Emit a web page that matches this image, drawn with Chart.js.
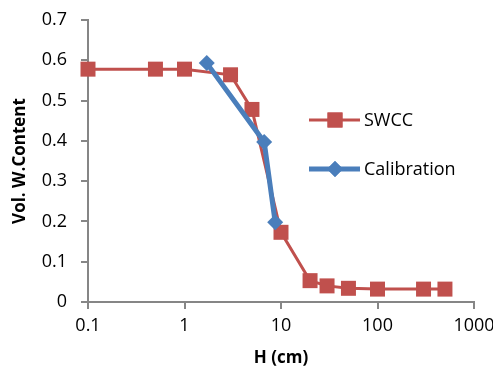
<!DOCTYPE html>
<html>
<head>
<meta charset="utf-8">
<script src="https://cdn.jsdelivr.net/npm/chart.js@4"></script>
<style>
  html, body { margin: 0; padding: 0; background: #fff; }
  #c { display: block; }
</style>
</head>
<body>
<canvas id="c" width="493" height="369"></canvas>
<script>
// dados
const swccH = [0.1, 0.5, 1, 3, 5, 10, 20, 30, 50, 100, 300, 500];
const swccTheta = [0.578, 0.578, 0.578, 0.564, 0.478, 0.173, 0.053, 0.04, 0.034, 0.032, 0.032, 0.032];
const calibH = [1.7, 6.7, 8.7];
const calibTheta = [0.593, 0.397, 0.198];
const xTicks = [0.1, 1, 10, 100, 1000];
const xTickLabels = ['0.1', '1', '10', '100', '1000'];
const yTickLabels = ['0', '0.1', '0.2', '0.3', '0.4', '0.5', '0.6', '0.7'];

const RED = '#C0504D';
const BLUE = '#4A7EBB';
const AXIS = '#868686';
const FONT = "'Open Sans', sans-serif";

function pares(xs, ys) {
    return xs.map((x, i) => ({ x: x, y: ys[i] }));
}

// legenda desenhada à mão dentro da área do gráfico
const legendaPlugin = {
    id: 'legenda',
    afterDraw(chart) {
        const ctx = chart.ctx;
        const itens = [
            { label: 'SWCC', color: RED, width: 3, y: 120, style: 'rect', r: 10.6 },
            { label: 'Calibration', color: BLUE, width: 5, y: 169, style: 'rectRot', r: 8 }
        ];
        ctx.save();
        itens.forEach(it => {
            ctx.strokeStyle = it.color;
            ctx.lineWidth = it.width;
            ctx.beginPath();
            ctx.moveTo(309, it.y);
            ctx.lineTo(360, it.y);
            ctx.stroke();
            ctx.fillStyle = it.color;
            Chart.helpers.drawPoint(ctx, { pointStyle: it.style, radius: it.r, borderWidth: 0 }, 335, it.y);
            ctx.fill();
            ctx.fillStyle = '#000';
            ctx.font = '18px ' + FONT;
            ctx.textBaseline = 'middle';
            ctx.fillText(it.label, 364, it.y + 1);
        });
        ctx.restore();
    }
};

new Chart(document.getElementById('c'), {
    type: 'line',
    data: {
        datasets: [{
            label: 'SWCC',
            data: pares(swccH, swccTheta),
            borderColor: RED,
            backgroundColor: RED,
            borderWidth: 3,
            pointStyle: 'rect',
            pointRadius: 10.6,
            pointHoverRadius: 10.6,
            pointBorderWidth: 0,
            tension: 0,
            clip: false,
            order: 2
        }, {
            label: 'Calibration',
            data: pares(calibH, calibTheta),
            borderColor: BLUE,
            backgroundColor: BLUE,
            borderWidth: 5,
            pointStyle: 'rectRot',
            pointRadius: 8,
            pointHoverRadius: 8,
            pointBorderWidth: 0,
            tension: 0,
            clip: false,
            order: 1
        }]
    },
    options: {
        responsive: false,
        animation: false,
        layout: { padding: { left: 0, right: 19, top: 20, bottom: 0 } },
        plugins: {
            legend: { display: false },
            tooltip: { enabled: false }
        },
        scales: {
            x: {
                type: 'logarithmic',
                min: 0.1,
                max: 1000,
                afterBuildTicks: s => { s.ticks = xTicks.map(v => ({ value: v })); },
                afterFit: s => { s.height = 67; s.paddingRight = 0; s.paddingLeft = 0; },
                ticks: {
                    autoSkip: false,
                    maxRotation: 0,
                    color: '#000',
                    padding: 6,
                    font: { family: FONT, size: 18 },
                    callback: (v) => xTickLabels[xTicks.indexOf(v)]
                },
                grid: { drawOnChartArea: false, color: AXIS, lineWidth: 2, tickLength: 7 },
                border: { color: AXIS, width: 2 },
                title: {
                    display: true,
                    text: 'H (cm)',
                    color: '#000',
                    font: { family: FONT, size: 17, weight: 'bold' },
                    padding: { top: 0, bottom: 1 }
                }
            },
            y: {
                min: 0,
                max: 0.7,
                afterBuildTicks: s => { s.ticks = yTickLabels.map(t => ({ value: parseFloat(t) })); },
                afterFit: s => { s.width = 88; s.paddingTop = 0; s.paddingBottom = 0; },
                ticks: {
                    color: '#000',
                    padding: 14,
                    font: { family: FONT, size: 18 },
                    callback: (v, i) => yTickLabels[i]
                },
                grid: { drawOnChartArea: false, color: AXIS, lineWidth: 2, tickLength: 7 },
                border: { color: AXIS, width: 2 },
                title: {
                    display: true,
                    text: 'Vol. W.Content',
                    color: '#000',
                    font: { family: FONT, size: 17, weight: 'bold' },
                    padding: { top: 10, bottom: 0 }
                }
            }
        }
    },
    plugins: [legendaPlugin]
});
</script>
</body>
</html>
